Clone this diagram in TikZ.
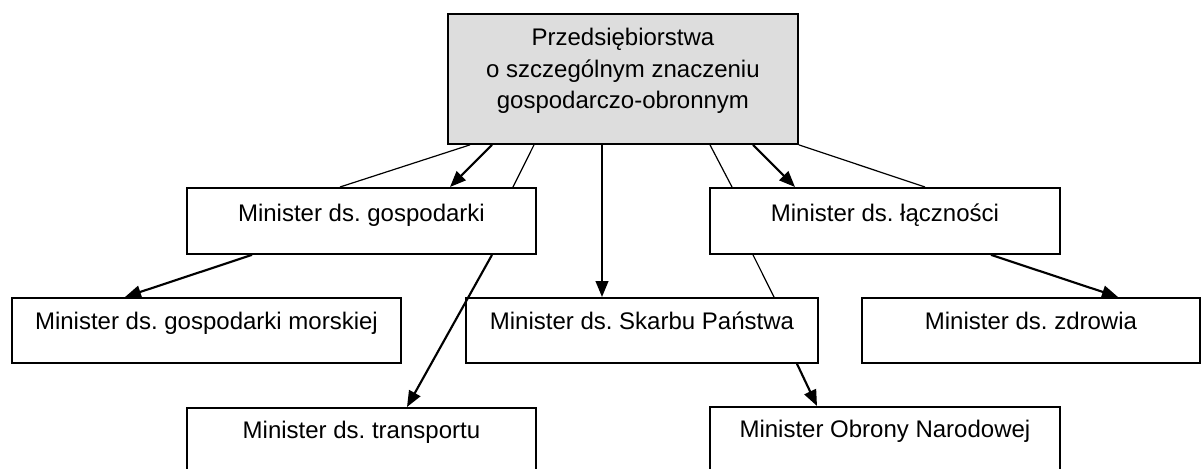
\documentclass[tikz,border=0pt]{standalone}
\usepackage{fontspec}
\setmainfont{Liberation Sans}
\frenchspacing
\usetikzlibrary{arrows.meta,calc}
\definecolor{topfill}{RGB}{221,221,221}
\tikzset{
  box/.style={draw, line width=1.4pt, fill=white, inner sep=0pt, anchor=north west,
    font=\fontsize{18}{23.625}\selectfont\frenchspacing},
  r2/.style={text height=25.5pt, text depth=24pt},
  r3/.style={text height=24pt, text depth=24.75pt},
  r4/.style={text height=23.25pt, text depth=26.25pt},
  thinline/.style={line width=0.9pt},
  arr/.style={line width=1.6pt, -{Triangle[length=12pt,width=9.5pt]}},
}
\begin{document}
\begin{tikzpicture}[x=0.75pt,y=-0.75pt]
\useasboundingbox (0,0) rectangle (1202,468);
\clip (0,0) rectangle (1202,468);
% boxes
\node[box, fill=topfill, minimum width=262.5pt, text height=24pt, text depth=73.5pt] (top) at (447,13)
  {\begin{tabular}[t]{@{}c@{}}Przedsiębiorstwa\\o szczególnym znaczeniu\\gospodarczo-obronnym\end{tabular}};
\node[box, r2, minimum width=261.75pt] (gosp) at (186,187) {Minister ds. gospodarki};
\node[box, r2, minimum width=262.5pt] (lacz) at (709,187) {Minister ds. łączności};
\node[box, r3, minimum width=291.75pt] (morsk) at (11,297) {Minister ds. gospodarki morskiej};
\node[box, r3, minimum width=264pt] (skarb) at (465,297) {Minister ds. Skarbu Państwa};
\node[box, r3, minimum width=253.5pt] (zdrow) at (861,297) {Minister ds. zdrowia};
\node[box, r4, minimum width=261.75pt] (transp) at (186,407) {Minister ds. transportu};
\node[box, r4, minimum width=262.5pt] (obron) at (709,406) {Minister Obrony Narodowej};
% connectors from top box
\draw[thinline] ($(top.south west)+(23,0)$) -- ($(gosp.north west)+(154,0)$);
\draw[arr] ($(top.south west)+(45,0)$) -- ($(gosp.north west)+(264,0)$);
\draw[thinline] ($(top.south west)+(87,0)$) -- ($(gosp.north west)+(327,0)$);
\draw[arr] ($(top.south west)+(155,0)$) -- ($(skarb.north west)+(137,0)$);
\draw[thinline] ($(top.south west)+(263,0)$) -- ($(lacz.north west)+(23,0)$);
\draw[arr] ($(top.south west)+(306,0)$) -- ($(lacz.north west)+(86,0)$);
\draw[thinline] (top.south east) -- ($(lacz.north west)+(216,0)$);
% second level
\draw[arr] ($(gosp.south west)+(66,0)$) -- ($(morsk.north west)+(114,0)$);
\draw[arr] ($(gosp.south west)+(306,0)$) -- ($(transp.north west)+(221,0)$);
\draw[thinline] ($(lacz.south west)+(44,0)$) -- ($(skarb.north west)+(309,0)$);
\draw[arr] ($(lacz.south west)+(282,0)$) -- ($(zdrow.north west)+(257,0)$);
\draw[arr] ($(skarb.south west)+(332,0)$) -- ($(obron.north west)+(108,0)$);
\end{tikzpicture}
\end{document}
